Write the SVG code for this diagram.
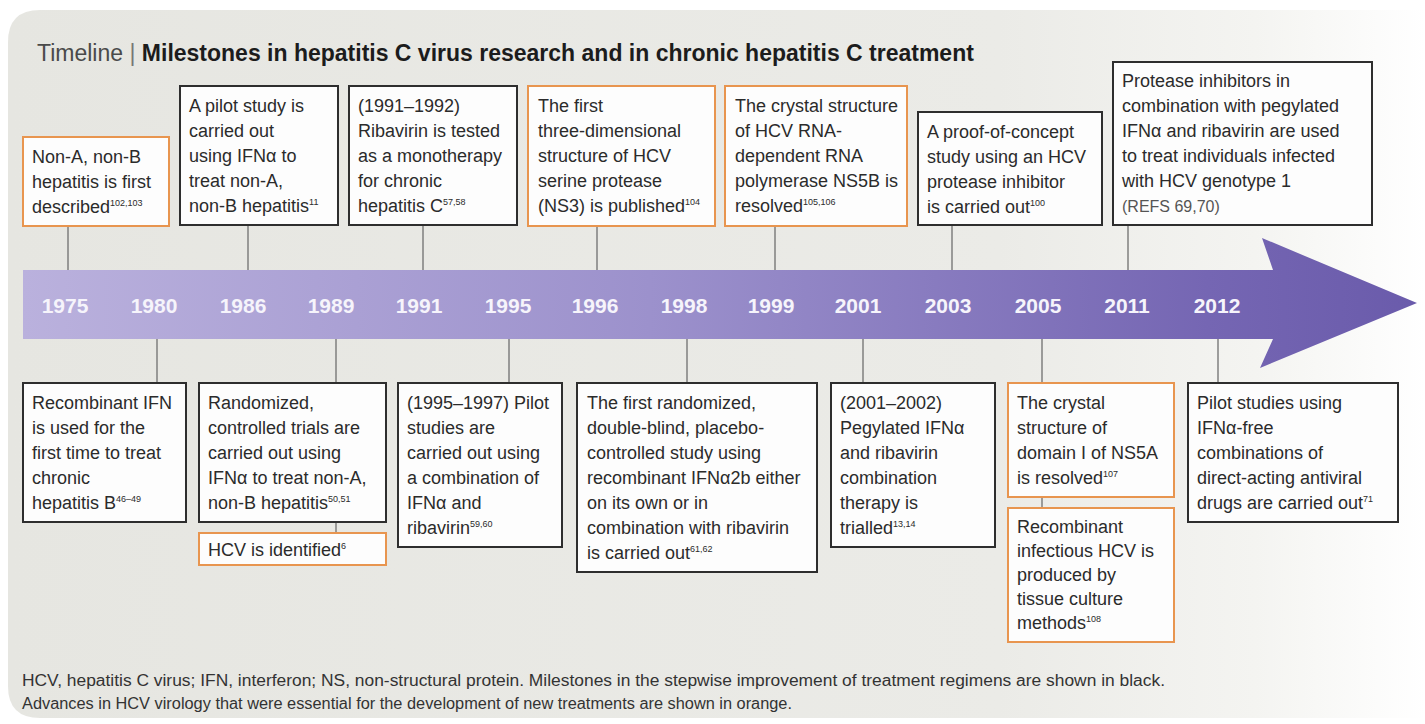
<svg xmlns="http://www.w3.org/2000/svg" width="1425" height="724" viewBox="0 0 1425 724">
<defs>
<linearGradient id="panel" x1="0" y1="0" x2="1" y2="0">
<stop offset="0" stop-color="#e6e6e1"/>
<stop offset="0.7" stop-color="#ebebe7"/>
<stop offset="0.88" stop-color="#f4f4f1"/>
<stop offset="1" stop-color="#ffffff"/>
</linearGradient>
<linearGradient id="band" x1="0" y1="0" x2="1" y2="0">
<stop offset="0" stop-color="#bab1dd"/>
<stop offset="0.45" stop-color="#9c91cc"/>
<stop offset="0.85" stop-color="#7566b3"/>
<stop offset="1" stop-color="#6a5bab"/>
</linearGradient>
<style>
.box{fill:#fdfdfd;stroke-width:2}
.blk{stroke:#2e2e2e}
.org{stroke:#e8954f}
.t{font-family:"Liberation Sans",Arial,sans-serif;font-size:18px;fill:#2b2b2b}
.sup{font-size:9px}
.yr{font-family:"Liberation Sans",Arial,sans-serif;font-size:21px;font-weight:bold;fill:#f6f4fb;text-anchor:middle}
.ln{stroke:#6f6f6f;stroke-width:1.3;fill:none}
.cap{font-family:"Liberation Sans",Arial,sans-serif;font-size:16px;fill:#333}
</style>
</defs>

<path d="M8,42 Q8,10 40,10 L1425,10 L1425,718 L40,718 Q8,718 8,686 Z" fill="url(#panel)"/>

<text x="37" y="61" font-family="Liberation Sans, Arial, sans-serif" font-size="23" fill="#4a4a4a">Timeline <tspan fill="#777">|</tspan> <tspan font-weight="bold" fill="#1c1c1c">Milestones in hepatitis C virus research and in chronic hepatitis C treatment</tspan></text>

<g id="timeline-arrow">
<polygon points="23,270 1273,270 1262,238 1417,303 1260,368 1273,339 23,339" fill="url(#band)"/>
<text class="yr" x="65" y="313">1975</text>
<text class="yr" x="154" y="313">1980</text>
<text class="yr" x="243" y="313">1986</text>
<text class="yr" x="331" y="313">1989</text>
<text class="yr" x="419" y="313">1991</text>
<text class="yr" x="508" y="313">1995</text>
<text class="yr" x="595" y="313">1996</text>
<text class="yr" x="684" y="313">1998</text>
<text class="yr" x="771" y="313">1999</text>
<text class="yr" x="858" y="313">2001</text>
<text class="yr" x="948" y="313">2003</text>
<text class="yr" x="1038" y="313">2005</text>
<text class="yr" x="1127" y="313">2011</text>
<text class="yr" x="1217" y="313">2012</text>
</g>

<g id="connectors">
<line class="ln" x1="68" y1="226" x2="68" y2="270"/>
<line class="ln" x1="248" y1="225" x2="248" y2="270"/>
<line class="ln" x1="423" y1="225" x2="423" y2="270"/>
<line class="ln" x1="597" y1="226" x2="597" y2="270"/>
<line class="ln" x1="775" y1="226" x2="775" y2="270"/>
<line class="ln" x1="952" y1="225" x2="952" y2="270"/>
<line class="ln" x1="1128" y1="225" x2="1128" y2="270"/>
<line class="ln" x1="157" y1="339" x2="157" y2="383"/>
<line class="ln" x1="336" y1="339" x2="336" y2="383"/>
<line class="ln" x1="336" y1="522" x2="336" y2="533"/>
<line class="ln" x1="509" y1="339" x2="509" y2="383"/>
<line class="ln" x1="687" y1="339" x2="687" y2="383"/>
<line class="ln" x1="863" y1="339" x2="863" y2="383"/>
<line class="ln" x1="1042" y1="339" x2="1042" y2="383"/>
<line class="ln" x1="1042" y1="497" x2="1042" y2="508"/>
<line class="ln" x1="1218" y1="339" x2="1218" y2="383"/>
</g>

<g id="n1975">
<rect class="box org" x="23" y="137" width="146" height="89"/>
<text class="t" x="32" y="163">Non-A, non-B</text>
<text class="t" x="32" y="188">hepatitis is first</text>
<text class="t" x="32" y="213">described<tspan class="sup" dy="-7">102,103</tspan></text>
</g>

<g id="n1986">
<rect class="box blk" x="180" y="86" width="158" height="139"/>
<text class="t" x="189" y="112">A pilot study is</text>
<text class="t" x="189" y="137">carried out</text>
<text class="t" x="189" y="162">using IFNα to</text>
<text class="t" x="189" y="187">treat non-A,</text>
<text class="t" x="189" y="212">non-B hepatitis<tspan class="sup" dy="-7">11</tspan></text>
</g>

<g id="n1991">
<rect class="box blk" x="349" y="86" width="168" height="139"/>
<text class="t" x="358" y="112">(1991–1992)</text>
<text class="t" x="358" y="137">Ribavirin is tested</text>
<text class="t" x="358" y="162">as a monotherapy</text>
<text class="t" x="358" y="187">for chronic</text>
<text class="t" x="358" y="212">hepatitis C<tspan class="sup" dy="-7">57,58</tspan></text>
</g>

<g id="n1996">
<rect class="box org" x="528" y="86" width="187" height="140"/>
<text class="t" x="538" y="112">The first</text>
<text class="t" x="538" y="137">three-dimensional</text>
<text class="t" x="538" y="162">structure of HCV</text>
<text class="t" x="538" y="187">serine protease</text>
<text class="t" x="538" y="212">(NS3) is published<tspan class="sup" dy="-7">104</tspan></text>
</g>

<g id="n1999">
<rect class="box org" x="725" y="86" width="182" height="140"/>
<text class="t" x="735" y="112">The crystal structure</text>
<text class="t" x="735" y="137">of HCV RNA-</text>
<text class="t" x="735" y="162">dependent RNA</text>
<text class="t" x="735" y="187">polymerase NS5B is</text>
<text class="t" x="735" y="212">resolved<tspan class="sup" dy="-7">105,106</tspan></text>
</g>

<g id="n2003">
<rect class="box blk" x="918" y="112" width="184" height="113"/>
<text class="t" x="927" y="138">A proof-of-concept</text>
<text class="t" x="927" y="163">study using an HCV</text>
<text class="t" x="927" y="188">protease inhibitor</text>
<text class="t" x="927" y="213">is carried out<tspan class="sup" dy="-7">100</tspan></text>
</g>

<g id="n2011">
<rect class="box blk" x="1113" y="62" width="259" height="163"/>
<text class="t" x="1122" y="87">Protease inhibitors in</text>
<text class="t" x="1122" y="112">combination with pegylated</text>
<text class="t" x="1122" y="137">IFNα and ribavirin are used</text>
<text class="t" x="1122" y="162">to treat individuals infected</text>
<text class="t" x="1122" y="187">with HCV genotype 1</text>
<text class="t" x="1122" y="212" style="font-size:16px;fill:#555">(REFS 69,70)</text>
</g>

<g id="n1980">
<rect class="box blk" x="23" y="383" width="163" height="139"/>
<text class="t" x="32" y="409">Recombinant IFN</text>
<text class="t" x="32" y="434">is used for the</text>
<text class="t" x="32" y="459">first time to treat</text>
<text class="t" x="32" y="484">chronic</text>
<text class="t" x="32" y="509">hepatitis B<tspan class="sup" dy="-7">46–49</tspan></text>
</g>

<g id="n1989a">
<rect class="box blk" x="199" y="383" width="187" height="139"/>
<text class="t" x="208" y="409">Randomized,</text>
<text class="t" x="208" y="434">controlled trials are</text>
<text class="t" x="208" y="459">carried out using</text>
<text class="t" x="208" y="484">IFNα to treat non-A,</text>
<text class="t" x="208" y="509">non-B hepatitis<tspan class="sup" dy="-7">50,51</tspan></text>
</g>

<g id="n1989b">
<rect class="box org" x="199" y="533" width="187" height="32"/>
<text class="t" x="208" y="556">HCV is identified<tspan class="sup" dy="-7">6</tspan></text>
</g>

<g id="n1995">
<rect class="box blk" x="398" y="383" width="164" height="164"/>
<text class="t" x="407" y="409">(1995–1997) Pilot</text>
<text class="t" x="407" y="434">studies are</text>
<text class="t" x="407" y="459">carried out using</text>
<text class="t" x="407" y="484">a combination of</text>
<text class="t" x="407" y="509">IFNα and</text>
<text class="t" x="407" y="534">ribavirin<tspan class="sup" dy="-7">59,60</tspan></text>
</g>

<g id="n1998">
<rect class="box blk" x="577" y="383" width="240" height="189"/>
<text class="t" x="587" y="409">The first randomized,</text>
<text class="t" x="587" y="434">double-blind, placebo-</text>
<text class="t" x="587" y="459">controlled study using</text>
<text class="t" x="587" y="484">recombinant IFNα2b either</text>
<text class="t" x="587" y="509">on its own or in</text>
<text class="t" x="587" y="534">combination with ribavirin</text>
<text class="t" x="587" y="559">is carried out<tspan class="sup" dy="-7">61,62</tspan></text>
</g>

<g id="n2001">
<rect class="box blk" x="831" y="383" width="164" height="164"/>
<text class="t" x="840" y="409">(2001–2002)</text>
<text class="t" x="840" y="434">Pegylated IFNα</text>
<text class="t" x="840" y="459">and ribavirin</text>
<text class="t" x="840" y="484">combination</text>
<text class="t" x="840" y="509">therapy is</text>
<text class="t" x="840" y="534">trialled<tspan class="sup" dy="-7">13,14</tspan></text>
</g>

<g id="n2005a">
<rect class="box org" x="1008" y="383" width="166" height="114"/>
<text class="t" x="1017" y="409">The crystal</text>
<text class="t" x="1017" y="434">structure of</text>
<text class="t" x="1017" y="459">domain I of NS5A</text>
<text class="t" x="1017" y="484">is resolved<tspan class="sup" dy="-7">107</tspan></text>
</g>

<g id="n2005b">
<rect class="box org" x="1008" y="508" width="166" height="134"/>
<text class="t" x="1017" y="533">Recombinant</text>
<text class="t" x="1017" y="557">infectious HCV is</text>
<text class="t" x="1017" y="581">produced by</text>
<text class="t" x="1017" y="605">tissue culture</text>
<text class="t" x="1017" y="629">methods<tspan class="sup" dy="-7">108</tspan></text>
</g>

<g id="n2012">
<rect class="box blk" x="1188" y="383" width="210" height="139"/>
<text class="t" x="1197" y="409">Pilot studies using</text>
<text class="t" x="1197" y="434">IFNα-free</text>
<text class="t" x="1197" y="459">combinations of</text>
<text class="t" x="1197" y="484">direct-acting antiviral</text>
<text class="t" x="1197" y="509">drugs are carried out<tspan class="sup" dy="-7">71</tspan></text>
</g>

<text class="cap" x="22" y="686" textLength="1143" lengthAdjust="spacingAndGlyphs">HCV, hepatitis C virus; IFN, interferon; NS, non-structural protein. Milestones in the stepwise improvement of treatment regimens are shown in black.</text>
<text class="cap" x="22" y="709" textLength="770" lengthAdjust="spacingAndGlyphs">Advances in HCV virology that were essential for the development of new treatments are shown in orange.</text>
</svg>
